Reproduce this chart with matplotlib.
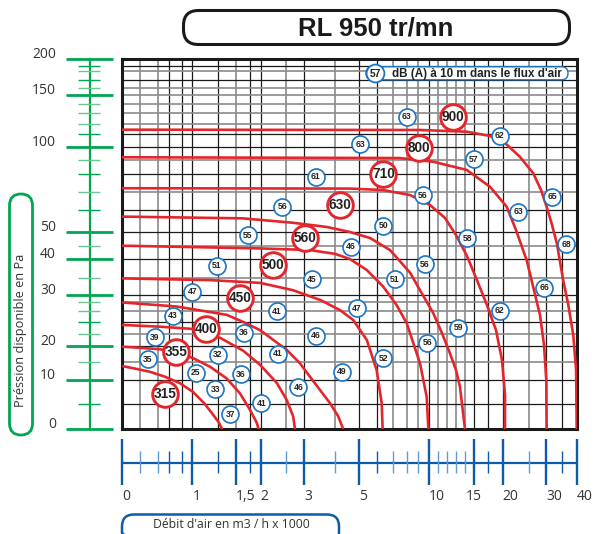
import numpy as np
import matplotlib
matplotlib.use("Agg")
import matplotlib.pyplot as plt
from matplotlib.patches import FancyBboxPatch

W, H = 594, 534

# graduations of the two (non linear) axes and where they sit on the sheet, px
flow_grad = [0, 0.25, 0.5, 0.65, 0.85, 1, 1.3, 1.5, 1.8, 2, 2.5, 3, 4, 5, 6, 7, 8, 9,
             10, 11, 12, 13, 14, 15, 17.5, 20, 25, 30, 35, 40]
flow_pix = [122, 140, 158.3, 169, 181.7, 192.3, 217.7, 235.7, 250, 260.7, 286, 304, 335,
            358.7, 377, 392.7, 407.3, 418, 428.7, 437.7, 447, 456, 465, 474, 488.3,
            502.7, 528.7, 546.3, 562.3, 576.7]
press_grad = [0, 5, 10, 15, 20, 22, 24, 26, 28, 30, 35, 40, 45, 50, 60, 70, 80, 90, 100,
              110, 120, 130, 140, 150, 160, 170, 180, 190, 200]
press_pix = [429.3, 403.7, 380.3, 362, 346, 333.7, 322, 311, 302, 295, 277.7, 259.3,
             245.7, 232, 210, 192, 174, 160, 147, 134, 124, 113, 104, 95, 87.7, 80, 71,
             66, 58.7]

flow_major = [0, 1, 1.5, 2, 3, 5, 10, 15, 20, 30, 40]
flow_text = ['0', '1', '1,5', '2', '3', '5', '10', '15', '20', '30', '40']
press_major = [0, 10, 20, 30, 40, 50, 100, 150, 200]

dark_flow = [0.65, 0.85, 1, 1.3, 1.8, 2, 3, 5, 6, 10, 15, 17.5, 20, 30, 35]
dark_press = [5, 10, 20, 24, 30, 40, 50, 60, 80, 100, 110, 170, 190]

# fan curves : flow (m3/h x 1000) / available pressure (Pa)
q315 = [0, 0.18, 0.39, 0.59, 0.82, 1.01, 1.14, 1.23, 1.31, 1.35]
p315 = [13.9, 13.2, 12.3, 11.0, 9.4, 7.5, 5.1, 3.2, 1.4, 0]
q355 = [0, 0.52, 0.76, 1.01, 1.21, 1.40, 1.59, 1.8, 1.93, 1.96]
p355 = [19.8, 19.0, 18.0, 16.2, 13.7, 10.5, 7.2, 3.8, 1.2, 0]
q400 = [0, 0.52, 1.02, 1.33, 1.66, 1.99, 2.32, 2.52, 2.70, 2.75]
p400 = [23.5, 23.2, 22.8, 21.3, 18.5, 14.2, 9.4, 5.8, 2.5, 0]
q450 = [0, 0.77, 1.40, 1.66, 1.99, 2.52, 2.89, 3.19, 3.84, 4.14, 4.35]
p450 = [27.9, 27.0, 25.3, 24.0, 22.6, 18.8, 14.6, 11.0, 5.1, 2.5, 0]
q500 = [0, 1.21, 1.99, 2.69, 3.52, 4.21, 4.76, 5.44, 5.98, 6.30, 6.36]
p500 = [34.8, 34.3, 33.5, 31.4, 28.6, 26.2, 24.4, 21.0, 12.8, 5.1, 0]
q560 = [0, 1.99, 3.19, 4.0, 4.63, 5.44, 6.4, 7.27, 7.96, 9.19, 9.81, 9.97]
p560 = [45.0, 44.0, 43.4, 42.0, 40.1, 37.1, 32.4, 27.3, 23.8, 14.6, 6.5, 0]
q630 = [0, 1.65, 2.69, 3.73, 4.63, 5.62, 6.83, 8.25, 9.28, 10.51, 11.46, 12.33, 13.0, 13.44, 14.0]
p630 = [57.0, 56.2, 54.2, 52.3, 50.0, 47.8, 43.4, 36.4, 30.9, 25.6, 22.1, 17.7, 12.8, 8.6, 0]
q710 = [0, 4.63, 6.38, 8.25, 10.14, 11.78, 13.0, 14.22, 15.52, 17.27, 18.84, 19.88, 20.44, 20.44]
p710 = [72.1, 71.9, 71.1, 68.3, 62.8, 56.4, 48.9, 41.2, 34.3, 27.3, 22.6, 15.6, 6.9, 0]
q800 = [0, 7.48, 10.48, 14.19, 17.8, 20.77, 22.56, 24.62, 26.5, 28.2, 29.35, 30.0, 30.1]
p800 = [92.1, 91.5, 88.8, 82.9, 72.9, 61.8, 50.9, 39.7, 31.4, 25.3, 20.2, 10.1, 0]
q900 = [0, 9.2, 14.19, 17.8, 20.44, 23.3, 26.3, 28.5, 30.1, 31.8, 33.3, 35.3, 37.1, 38.8, 39.8, 40]
p900 = [114.3, 114.0, 112.3, 108.5, 103.1, 92.5, 80.5, 71.1, 61.8, 53.2, 45.8, 34.3, 27.3, 21.8, 12.8, 0]

curves = [(q315, p315), (q355, p355), (q400, p400), (q450, p450), (q500, p500),
          (q560, p560), (q630, p630), (q710, p710), (q800, p800), (q900, p900)]

# fan size tags
fan_names = ['900', '800', '710', '630', '560', '500', '450', '400', '355', '315']
fan_flow = [12.7, 9.09, 6.40, 4.21, 3.02, 2.25, 1.59, 1.16, 0.76, 0.59]
fan_press = [126.2, 99.0, 79.8, 62.8, 47.8, 38.5, 29.1, 22.8, 18.2, 7.0]

# noise levels dB(A)
db_val = [63, 62, 63, 57, 61, 56, 65, 56, 63, 50, 58, 55, 68, 46, 51, 56, 51, 45, 66, 47,
          41, 47, 62, 43, 36, 46, 59, 39, 56, 32, 41, 52, 35, 25, 36, 49, 33, 46, 41, 37]
db_flow = [7.96, 19.5, 5.07, 15.0, 3.38, 9.44, 31.9, 2.43, 23.0, 6.40, 14.26, 1.75, 36.3,
           4.68, 1.29, 9.65, 7.16, 3.25, 29.4, 1.0, 2.32, 4.93, 19.5, 0.71, 1.67, 3.39,
           13.26, 0.45, 9.87, 1.30, 2.34, 6.40, 0.36, 1.04, 1.61, 4.28, 1.27, 2.84, 2.01, 1.44]
db_press = [126.6, 108.7, 102.3, 90.5, 78.5, 68.3, 67.4, 61.8, 59.2, 52.9, 47.7, 48.9, 45.6,
            44.6, 38.2, 38.7, 34.6, 34.5, 32.1, 31.0, 26.0, 26.6, 26.1, 25.1, 22.2, 21.7,
            23.0, 21.4, 20.5, 17.2, 17.5, 16.2, 15.8, 12.1, 11.6, 12.4, 8.1, 8.5, 5.1, 2.9]

RED = '#e4262c'
BLUE = '#1b75c4'
AXBLUE = '#0e5ba9'
LBLUE = '#5f9bd6'
GREEN = '#00a651'
LGREEN = '#6cc693'
TXT = '#333333'

fx = np.array(flow_pix) - flow_pix[0]
fy = press_pix[0] - np.array(press_pix)


def xf(v):
    return np.interp(v, flow_grad, fx)


def xi(p):
    return np.interp(p, fx, flow_grad)


def yf(v):
    return np.interp(v, press_grad, fy)


def yi(p):
    return np.interp(p, fy, press_grad)


fig = plt.figure(figsize=(W / 100, H / 100), dpi=100)
fig.patch.set_facecolor('white')

left, right = flow_pix[0], flow_pix[-1]
top, bottom = press_pix[-1], press_pix[0]

#------------------------- main grid ---------------------------------
ax = fig.add_axes([left / W, 1 - bottom / H, (right - left) / W, (bottom - top) / H])
ax.set_xscale('function', functions=(xf, xi))
ax.set_yscale('function', functions=(yf, yi))
ax.set_xlim(0, 40)
ax.set_ylim(0, 200)
ax.set_xticks([])
ax.set_yticks([])
for s in ax.spines.values():
    s.set_linewidth(2.2)
    s.set_color('#1a1a1a')

for v in flow_grad[1:-1]:
    if v in dark_flow:
        ax.axvline(v, color='#1a1a1a', lw=0.9, zorder=1)
    else:
        ax.axvline(v, color='#8a8a8a', lw=1.2, zorder=1)
for v in press_grad[1:-1]:
    if v in dark_press:
        ax.axhline(v, color='#1a1a1a', lw=0.9, zorder=1)
    else:
        ax.axhline(v, color='#8a8a8a', lw=1.2, zorder=1)

for q, p in curves:
    ax.plot(q, p, color=RED, lw=1.9, zorder=3, solid_capstyle='butt')

ax.scatter(db_flow, db_press, s=150, facecolor='white', edgecolor=BLUE, lw=1.2,
           zorder=5, clip_on=False)
for v, x, y in zip(db_val, db_flow, db_press):
    ax.text(x, y, str(v), ha='center', va='center', fontsize=6.2, weight='bold',
            family='Liberation Sans', color='#222222', zorder=6)

ax.scatter(fan_flow, fan_press, s=340, facecolor='white', edgecolor=RED, lw=2.1,
           zorder=7, clip_on=False)
for n, x, y in zip(fan_names, fan_flow, fan_press):
    ax.text(x, y, n, ha='center', va='center', fontsize=9.8, weight='bold',
            family='Liberation Sans', color='#222222', zorder=8)

#------------------------- pressure axis (green) ---------------------
gax = fig.add_axes([0, 1 - bottom / H, left / W, (bottom - top) / H], sharey=ax)
gax.set_xlim(0, left)
gax.axis('off')
gax.plot([90, 90], [0, 200], color=GREEN, lw=1.6, clip_on=False)
gax.hlines(press_major, 66, 113, color=GREEN, lw=2.0, clip_on=False)
for v in press_grad:
    if v in press_major:
        continue
    c = GREEN if v in dark_press else LGREEN
    gax.hlines(v, 78, 100, color=c, lw=1.0, clip_on=False)
for v in press_major:
    gax.annotate(str(v), (56, v), xytext=(0, 3.3), textcoords='offset points',
                 ha='right', va='center', fontsize=10, family='Open Sans', color=TXT)

#------------------------- flow axis (blue) --------------------------
bax = fig.add_axes([left / W, 0, (right - left) / W, (H - bottom) / H], sharex=ax)
bax.set_ylim(H, bottom)
bax.axis('off')
bax.hlines(462.7, 0, 40, color=AXBLUE, lw=1.6)
bax.vlines(flow_major, 439, 485, color=AXBLUE, lw=1.7, clip_on=False)
for v in flow_grad:
    if v in flow_major:
        continue
    c = AXBLUE if v in dark_flow else LBLUE
    bax.vlines(v, 451, 473.3, color=c, lw=1.0)
for v, t in zip(flow_major, flow_text):
    bax.text(v, 496.5, t, ha='center' if t == '15' else 'left', va='center',
             fontsize=10, family='Open Sans', color=TXT, clip_on=False)

#------------------------- frames and titles -------------------------
deco = fig.add_axes([0, 0, 1, 1], zorder=10)
deco.set_xlim(0, W)
deco.set_ylim(H, 0)
deco.axis('off')
deco.patch.set_alpha(0)

deco.add_patch(FancyBboxPatch((183.5, 10.5), 386, 34, boxstyle='round,pad=0,rounding_size=15',
                              facecolor='white', edgecolor='#1a1a1a', lw=2.2))
deco.text(376, 28, 'RL 950 tr/mn', ha='center', va='center', fontsize=18.5,
          weight='bold', family='Liberation Sans', color='#1a1a1a')

deco.add_patch(FancyBboxPatch((9.5, 194), 23, 241, boxstyle='round,pad=0,rounding_size=11.5',
                              facecolor='none', edgecolor=GREEN, lw=2.0))
deco.text(21, 330, 'Préssion disponible en Pa', rotation=90, ha='center', va='center',
          fontsize=9.2, family='Open Sans', color=TXT)

deco.add_patch(FancyBboxPatch((122, 514.5), 217, 30, boxstyle='round,pad=0,rounding_size=12',
                              facecolor='none', edgecolor=AXBLUE, lw=1.8, clip_on=False))
deco.text(231, 524.5, "Débit d'air en m3 / h x 1000", ha='center', va='center',
          fontsize=8.8, family='Open Sans', color=TXT)

deco.add_patch(FancyBboxPatch((366, 66.8), 202, 13, boxstyle='round,pad=0,rounding_size=6.5',
                              facecolor='white', edgecolor=BLUE, lw=1.0))
deco.scatter([375], [73.3], s=165, facecolor='white', edgecolor=BLUE, lw=1.3, zorder=5)
deco.text(375, 73.6, '57', ha='center', va='center', fontsize=7.4, weight='bold',
          family='Liberation Sans', color='#222222', zorder=6)
deco.text(391.5, 73.6, "dB (A) à 10 m dans le flux d'air", ha='left', va='center',
          fontsize=8.4, weight='bold', family='Liberation Sans', color='#222222')

fig.savefig('out.png', dpi=100)
